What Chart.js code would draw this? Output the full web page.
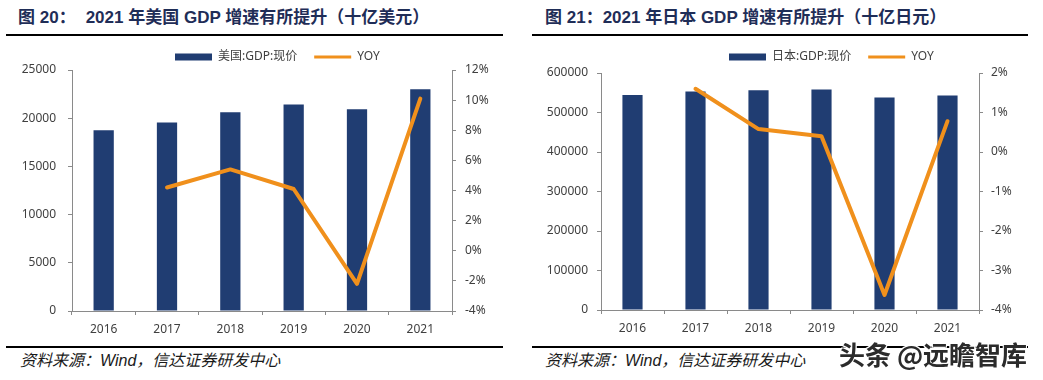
<!DOCTYPE html>
<html><head><meta charset="utf-8">
<script src="https://cdn.jsdelivr.net/npm/chart.js@4.4.0/dist/chart.umd.min.js"></script>
<style>
html,body{margin:0;padding:0;background:#fff;}
body{width:1043px;height:380px;overflow:hidden;position:relative;}
.title{position:absolute;top:7px;font-weight:bold;font-size:17px;font-family:'Liberation Sans','Noto Sans CJK SC',sans-serif;color:#1f2d57;white-space:pre;line-height:22px;}
.rule{position:absolute;height:2px;background:#000;}
.src{position:absolute;top:350px;font-style:italic;font-size:16px;font-family:'Liberation Sans','Noto Sans CJK SC',sans-serif;color:#1a1a1a;white-space:pre;line-height:22px;}
.cv{position:absolute;top:40px;}
#wm{position:absolute;left:839px;top:339px;font-size:26px;font-weight:bold;font-family:'Noto Sans CJK SC',sans-serif;color:#2b2b2b;white-space:pre;line-height:30px;z-index:5;
  text-shadow:1px 1px 0 #fff,-1px -1px 0 #fff,1px -1px 0 #fff,-1px 1px 0 #fff;}
</style>
</head><body>
<div class="title" style="left:18px">图 20：<span style="display:inline-block;width:10px"></span>2021 年美国 GDP 增速有所提升（十亿美元）</div>
<div class="title" style="left:545px">图 21：2021 年日本 GDP 增速有所提升（十亿日元）</div>
<div class="rule" style="left:6px;width:497px;top:34px"></div>
<div class="rule" style="left:532px;width:496px;top:34px"></div>
<div class="rule" style="left:6px;width:497px;top:346px"></div>
<div class="rule" style="left:532px;width:496px;top:346px"></div>
<div class="src" style="left:20px">资料来源：Wind，信达证券研发中心</div>
<div class="src" style="left:545px">资料来源：Wind，信达证券研发中心</div>
<div id="wm">头条 @远瞻智库</div>
<canvas id="c1" class="cv" style="left:0px" width="520" height="300"></canvas>
<canvas id="c2" class="cv" style="left:520px" width="523" height="300"></canvas>
<script>
// ---- data ----
const years = ['2016', '2017', '2018', '2019', '2020', '2021'];
const usGdp = [18745, 19543, 20612, 21433, 20937, 23000];
const usYoy = [null, 4.2, 5.4, 4.1, -2.2, 10.1];
const jpGdp = [544400, 553000, 556600, 558000, 537800, 542800];
const jpYoy = [null, 1.6, 0.58, 0.4, -3.62, 0.78];
const usLabels = ['美国:GDP:现价', 'YOY'];
const jpLabels = ['日本:GDP:现价', 'YOY'];

const NAVY = '#203d72';
const ORANGE = '#f0901c';
const AX = '#8a8a8a';
const TXT = '#404040';

Chart.defaults.font.family = "'Noto Sans','Noto Sans CJK SC',sans-serif";
Chart.defaults.font.size = 12;
Chart.defaults.color = TXT;

const legendPos = {
  id: 'legendPos',
  afterLayout(chart, args, opts) {
    const lg = chart.legend;
    if (!lg) return;
    const p = lg.options.labels.padding;
    const w = lg.right - lg.left;
    lg.left = opts.x - p;
    lg.right = lg.left + w + 200;
    const h = lg.bottom - lg.top;
    lg.top = opts.y - p - 6;
    lg.bottom = lg.top + h;
  }
};

function makeChart(id, cfg) {
  return new Chart(document.getElementById(id), {
    data: {
      labels: years,
      datasets: [
        { type: 'bar', label: cfg.labels[0], data: cfg.gdp, yAxisID: 'y', backgroundColor: NAVY,
          barPercentage: 0.32, categoryPercentage: 1, order: 1 },
        { type: 'line', label: cfg.labels[1], data: cfg.yoy, yAxisID: 'y1', borderColor: ORANGE,
          backgroundColor: ORANGE, borderWidth: 4, pointRadius: 0, tension: 0,
          borderCapStyle: 'round', borderJoinStyle: 'round', order: 0 }
      ]
    },
    options: {
      responsive: false, animation: false, devicePixelRatio: 1,
      layout: { padding: 0 },
      plugins: {
        tooltip: { enabled: false },
        legend: {
          position: 'top', align: 'start', maxHeight: cfg.legH,
          labels: {
            usePointStyle: true, pointStyleWidth: 37, boxHeight: 7, padding: 17, color: TXT,
            font: { size: 12 },
            generateLabels(chart) {
              const items = Chart.defaults.plugins.legend.labels.generateLabels(chart);
              items.sort((a, b) => a.datasetIndex - b.datasetIndex);
              items.forEach(it => {
                if (it.datasetIndex === 0) { it.pointStyle = 'rect'; it.lineWidth = 0; it.fillStyle = NAVY; }
                else { it.pointStyle = 'line'; it.lineWidth = 3; it.strokeStyle = ORANGE; it.fillStyle = ORANGE; }
              });
              return items;
            }
          }
        },
        legendPos: { x: cfg.legX, y: 17 }
      },
      scales: {
        x: {
          offset: true,
          grid: { display: true, drawOnChartArea: false, offset: true, tickLength: 4, color: AX },
          border: { color: AX },
          ticks: { color: TXT, padding: 7, maxRotation: 0 },
          afterFit(s) { s.height = cfg.xH; }
        },
        y: {
          position: 'left', min: cfg.yMin, max: cfg.yMax,
          grid: { drawOnChartArea: false, tickLength: 4, color: AX },
          border: { color: AX },
          ticks: { stepSize: cfg.yStep, padding: cfg.yPad, color: TXT, callback: v => String(v) },
          afterFit(s) { s.width = cfg.yW; }
        },
        y1: {
          position: 'right', min: cfg.rMin, max: cfg.rMax,
          grid: { drawOnChartArea: false, tickLength: 4, color: AX },
          border: { color: AX },
          ticks: { stepSize: cfg.rStep, padding: cfg.rPad, color: TXT, callback: v => v + '%' },
          afterFit(s) { s.width = cfg.rW; }
        }
      }
    },
    plugins: [legendPos]
  });
}

makeChart('c1', { labels: usLabels, gdp: usGdp, yoy: usYoy, legH: 30, legX: 175, xH: 29,
  yMin: 0, yMax: 25000, yStep: 5000, yPad: 12, yW: 72,
  rMin: -4, rMax: 12, rStep: 2, rPad: 9, rW: 68 });
makeChart('c2', { labels: jpLabels, gdp: jpGdp, yoy: jpYoy, legH: 33, legX: 209, xH: 30,
  yMin: 0, yMax: 600000, yStep: 100000, yPad: 9, yW: 81,
  rMin: -4, rMax: 2, rStep: 1, rPad: 8, rW: 64 });
</script>
</body></html>
